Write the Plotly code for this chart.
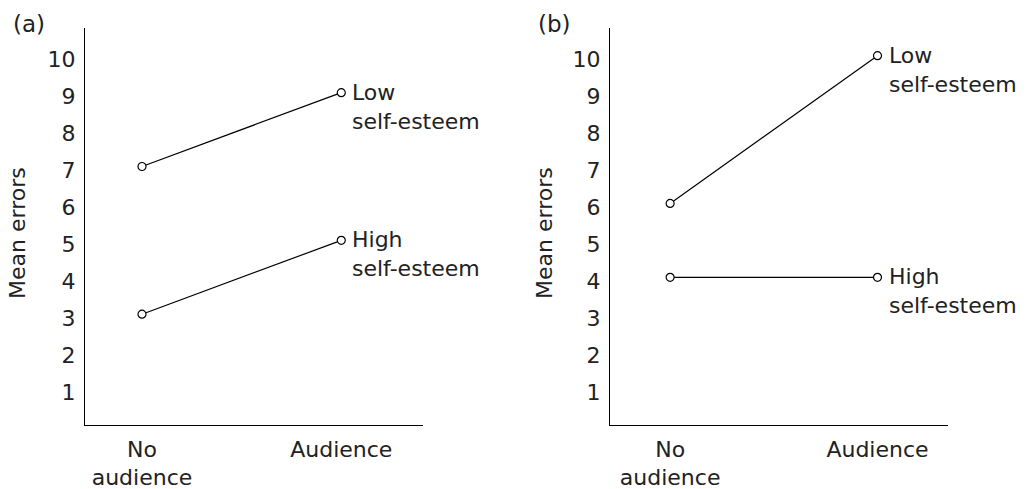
import plotly.graph_objects as go

conditions = ["No<br>audience", "Audience"]
cond_x = [0, 1]
panel_a_low = [7, 9]
panel_a_high = [3, 5]
panel_b_low = [6, 10]
panel_b_high = [4, 4]
series_names = ["Low<br>self-esteem", "High<br>self-esteem"]
yticks = list(range(1, 11))
panel_labels = ["(a)", "(b)"]

FONT = "DejaVu Sans"
TXT = "#222222"

fig = go.Figure()
panels = [
    ("x", "y", [panel_a_low, panel_a_high]),
    ("x2", "y2", [panel_b_low, panel_b_high]),
]
for xa, ya, series in panels:
    for vals, name in zip(series, series_names):
        fig.add_trace(go.Scatter(
            x=cond_x, y=vals, xaxis=xa, yaxis=ya, mode="lines+markers",
            line=dict(color="black", width=1.2),
            marker=dict(symbol="circle", size=8, color="white",
                        line=dict(color="black", width=1.2)),
            showlegend=False, hoverinfo="skip"))
        fig.add_annotation(x=cond_x[-1], y=vals[-1], xref=xa, yref=ya,
                           text=name, showarrow=False, xanchor="left",
                           yanchor="top", xshift=9, yshift=15, align="left",
                           font=dict(family=FONT, size=22, color=TXT))

common_y = dict(range=[0, 10.75], tickvals=yticks, ticks="", showgrid=False,
                zeroline=False, showline=True, linecolor="black", linewidth=1.2,
                tickfont=dict(family=FONT, size=22, color=TXT),
                ticklabelstandoff=4, ticklabelshift=4)
common_x = dict(tickvals=cond_x, ticktext=conditions, ticks="", showgrid=False,
                zeroline=False, showline=True, linecolor="black", linewidth=1.2,
                tickfont=dict(family=FONT, size=22, color=TXT),
                ticklabelstandoff=4)

fig.update_layout(
    width=1035, height=489,
    margin=dict(l=0, r=0, t=28, b=64),
    paper_bgcolor="white", plot_bgcolor="white",
    hovermode=False,
    xaxis=dict(domain=[85/1035, 423/1035], range=[-0.286, 1.41], anchor="y", **common_x),
    yaxis=dict(domain=[0, 1], anchor="x", **common_y),
    xaxis2=dict(domain=[610/1035, 948/1035], range=[-0.29, 1.34], anchor="y2", **common_x),
    yaxis2=dict(domain=[0, 1], anchor="x2", **common_y),
)

for lbl, px, tx in zip(panel_labels, [11, 536], [18, 545]):
    fig.add_annotation(x=px/1035, y=1, xref="paper", yref="paper", yanchor="top",
                       yshift=28-9, xanchor="left", text=lbl, showarrow=False,
                       font=dict(family=FONT, size=23, color=TXT))
    fig.add_annotation(x=tx/1035, y=(489-64-233)/(489-28-64), xref="paper",
                       yref="paper", text="Mean errors", textangle=-90,
                       showarrow=False, xanchor="center", yanchor="middle",
                       font=dict(family=FONT, size=22, color=TXT))

fig.write_html("out.html", config={"displayModeBar": False},
               post_script="document.body.style.margin='0px';")
